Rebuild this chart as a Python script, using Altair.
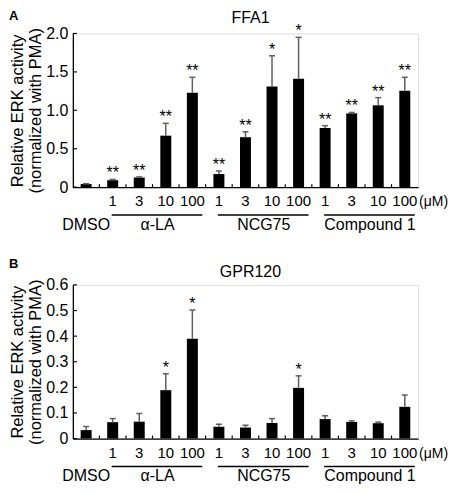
import altair as alt
import pandas as pd

# ---- data ----
categories = ["DMSO", "α-LA 1", "α-LA 3", "α-LA 10", "α-LA 100",
              "NCG75 1", "NCG75 3", "NCG75 10", "NCG75 100",
              "Compound 1 1", "Compound 1 3", "Compound 1 10", "Compound 1 100"]
conc_labels = ["", "1", "3", "10", "100", "1", "3", "10", "100", "1", "3", "10", "100"]
group_names = ["DMSO", "α-LA", "α-LA", "α-LA", "α-LA",
               "NCG75", "NCG75", "NCG75", "NCG75",
               "Compound 1", "Compound 1", "Compound 1", "Compound 1"]

ffa1_mean = [0.04, 0.09, 0.125, 0.67, 1.23, 0.17, 0.65, 1.31, 1.41, 0.77, 0.96, 1.065, 1.255]
ffa1_sem = [0.005, 0.01, 0.008, 0.16, 0.20, 0.04, 0.07, 0.40, 0.54, 0.03, 0.012, 0.10, 0.175]
ffa1_sig = ["", "**", "**", "**", "**", "**", "**", "*", "*", "**", "**", "**", "**"]
ffa1_ticks = [0, 0.5, 1.0, 1.5, 2.0]

gpr120_mean = [0.033, 0.064, 0.066, 0.189, 0.39, 0.046, 0.043, 0.061, 0.198, 0.076, 0.065, 0.06, 0.124]
gpr120_sem = [0.014, 0.014, 0.032, 0.064, 0.112, 0.010, 0.009, 0.017, 0.047, 0.013, 0.004, 0.004, 0.046]
gpr120_sig = ["", "", "", "*", "*", "", "", "", "*", "", "", "", ""]
gpr120_ticks = [0, 0.1, 0.2, 0.3, 0.4, 0.5, 0.6]

unit_label = "(μM)"
y_title = ["Relative ERK activity", "(normalized with PMA)"]

FONT = "Liberation Sans"
W, H = 346, 154
ERR = "#606060"


def panel(mean, sem, sig, yticks, title, letter, title_dy, letter_dy):
    n = len(categories)
    df = pd.DataFrame({"idx": list(range(n)), "cat": categories, "conc": conc_labels,
                       "group": group_names, "mean": mean, "sem": sem, "sig": sig})
    df["upper"] = df["mean"] + df["sem"]

    xscale = alt.Scale(domain=[-0.5, n - 0.5], nice=False, zero=False, padding=0)
    yscale = alt.Scale(domain=[min(yticks), max(yticks)], nice=False, padding=0)

    xaxis = alt.Axis(labels=False, ticks=False, grid=False, title=None,
                     domainColor="black", domainWidth=1.3)
    yaxis = alt.Axis(values=yticks, ticks=False, grid=False,
                     labelOverlap=False, labelBound=False,
                     labelExpr="datum.value == 0 ? '0' : format(datum.value, '.1f')",
                     labelFont=FONT, labelFontSize=16, labelColor="black",
                     labelPadding=5, domainColor="black", domainWidth=1.3,
                     title=y_title, titleFont=FONT, titleFontSize=16.5,
                     titleFontWeight="normal", titleColor="black",
                     titlePadding=2, titleLineHeight=18)
    X = lambda f: alt.X(f, scale=xscale, axis=xaxis)
    Y = lambda f: alt.Y(f, scale=yscale, axis=yaxis)

    base = alt.Chart(df)
    bars = base.mark_bar(color="black", width=11).encode(x=X("idx:Q"), y=Y("mean:Q"))
    err = base.mark_rule(color=ERR, strokeWidth=1.5).encode(
        x=X("idx:Q"), y=Y("mean:Q"), y2="upper:Q")
    cap = base.mark_rule(color=ERR, strokeWidth=1.5, xOffset=-3, x2Offset=3).encode(
        x=X("idx:Q"), x2="idx:Q", y=Y("upper:Q"))
    stars = base.mark_text(font=FONT, fontSize=16, baseline="alphabetic", dy=-1,
                           color="black").encode(
        x=X("idx:Q"), y=Y("upper:Q"), text="sig:N")

    # inward axis ticks
    xt = pd.DataFrame({"pos": [i + 0.5 for i in range(n - 1)]})
    xticks = alt.Chart(xt).mark_rule(color="black", strokeWidth=1.2).encode(
        x=X("pos:Q"), y=alt.value(H - 3), y2=alt.value(H))
    yt = pd.DataFrame({"v": yticks})
    yticks_l = alt.Chart(yt).mark_rule(color="black", strokeWidth=1.2).encode(
        y=Y("v:Q"), x=alt.value(0), x2=alt.value(4))

    conc = base.mark_text(font=FONT, fontSize=15, baseline="alphabetic",
                          color="black").encode(
        x=X("idx:Q"), y=alt.value(H + 19), text="conc:N")

    g = (df[df["group"] != "DMSO"].groupby("group", sort=False)["idx"]
         .agg(["min", "max", "mean"]).reset_index())
    glines = alt.Chart(g).mark_rule(color="black", strokeWidth=1.5,
                                    xOffset=-1, x2Offset=10).encode(
        x=X("min:Q"), x2="max:Q", y=alt.value(H + 28))
    glabels = alt.Chart(g).mark_text(font=FONT, fontSize=16, baseline="alphabetic",
                                     dx=5, color="black").encode(
        x=X("mean:Q"), y=alt.value(H + 43), text="group:N")
    dmso = base.transform_filter("datum.group == 'DMSO'").mark_text(
        font=FONT, fontSize=16, baseline="alphabetic", color="black").encode(
        x=X("idx:Q"), y=alt.value(H + 43), text="group:N")

    unit = alt.Chart(pd.DataFrame({"t": [unit_label]})).mark_text(
        font=FONT, fontSize=14, baseline="alphabetic", align="left",
        color="black").encode(x=alt.value(W + 1), y=alt.value(H + 19), text="t:N")
    ttl = alt.Chart(pd.DataFrame({"t": [title]})).mark_text(
        font=FONT, fontSize=16, baseline="alphabetic", align="center",
        color="black").encode(x=alt.value(W / 2 + 5), y=alt.value(title_dy), text="t:N")
    let = alt.Chart(pd.DataFrame({"t": [letter]})).mark_text(
        font=FONT, fontSize=13, fontWeight="bold", baseline="alphabetic",
        align="left", color="black").encode(x=alt.value(-64), y=alt.value(letter_dy),
                                             text="t:N")

    return alt.layer(bars, err, cap, stars, xticks, yticks_l, conc, glines,
                     glabels, dmso, unit, ttl, let).properties(width=W, height=H)


A = panel(ffa1_mean, ffa1_sem, ffa1_sig, ffa1_ticks, "FFA1", "A", -11, -14)
B = panel(gpr120_mean, gpr120_sem, gpr120_sig, gpr120_ticks, "GPR120", "B", -8, -17)

chart = alt.vconcat(A, B, spacing=98, bounds="flush").properties(
    padding=0).configure_view(stroke=None).configure(background="white")

chart.save("out.html", embed_options={"renderer": "svg", "actions": False})
